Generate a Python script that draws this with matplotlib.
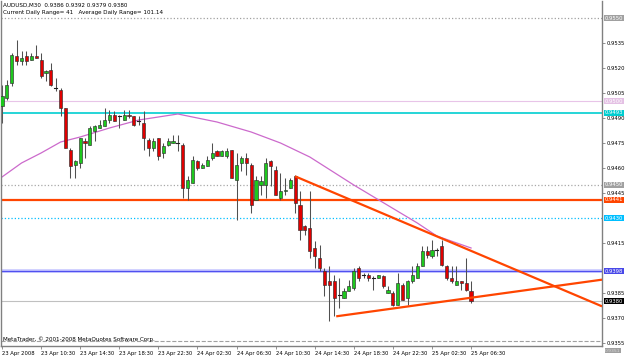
import matplotlib
matplotlib.use('Agg')
import matplotlib.pyplot as plt
import matplotlib.transforms as mtransforms
from matplotlib import font_manager
from matplotlib.patches import Rectangle

# ---------------- data ----------------
opens = [0.9497,0.9502,0.9511,0.9527,0.9524,0.9527,0.9525,0.9527,0.9525,0.9517,
         0.9519,0.9508,0.9507,0.9496,0.9471,0.9462,0.9463,0.9476,0.9474,0.9482,
         0.9484,0.9485,0.9489,0.9492,0.9491,0.9489,0.9492,0.9491,0.9488,0.9487,
         0.9477,0.9472,0.9478,0.9469,0.9474,0.9475,0.9475,0.9474,0.9448,0.9451,
         0.9464,0.9460,0.9461,0.9466,0.9470,0.9467,0.9467,0.9471,0.9453,0.9463,
         0.9466,0.9462,0.9441,0.9450,0.9450,0.9464,0.9459,0.9442,0.9446,0.9448,
         0.9455,0.9438,0.9425,0.9424,0.9412,0.9406,0.9398,0.9392,0.9392,0.9384,
         0.9382,0.9386,0.9388,0.9400,0.9396,0.9396,0.9394,0.9394,0.9395,0.9385,
         0.9385,0.9378,0.9390,0.9382,0.9392,0.9394,0.9401,0.9410,0.9407,0.9411,
         0.9413,0.9401,0.9394,0.9390,0.9392,0.9391,0.9386]
highs = [0.9510,0.9513,0.9529,0.9537,0.9530,0.9530,0.9529,0.9534,0.9529,0.9519,
         0.9523,0.9514,0.9508,0.9496,0.9472,0.9465,0.9478,0.9478,0.9485,0.9486,
         0.9489,0.9496,0.9495,0.9494,0.9492,0.9495,0.9495,0.9491,0.9491,0.9494,
         0.9478,0.9478,0.9478,0.9475,0.9478,0.9480,0.9480,0.9475,0.9455,0.9467,
         0.9465,0.9463,0.9467,0.9475,0.9471,0.9471,0.9472,0.9471,0.9469,0.9467,
         0.9469,0.9463,0.9455,0.9455,0.9466,0.9465,0.9461,0.9457,0.9454,0.9454,
         0.9456,0.9446,0.9426,0.9446,0.9416,0.9414,0.9400,0.9401,0.9396,0.9394,
         0.9388,0.9393,0.9400,0.9401,0.9397,0.9397,0.9395,0.9396,0.9396,0.9389,
         0.9386,0.9397,0.9391,0.9393,0.9401,0.9403,0.9413,0.9413,0.9417,0.9412,
         0.9417,0.9402,0.9401,0.9401,0.9392,0.9406,0.9392]
lows = [0.9487,0.9501,0.9509,0.9522,0.9522,0.9522,0.9525,0.9526,0.9514,0.9512,
        0.9509,0.9506,0.9491,0.9472,0.9454,0.9454,0.9460,0.9466,0.9474,0.9476,
        0.9484,0.9485,0.9487,0.9488,0.9484,0.9489,0.9490,0.9485,0.9486,0.9471,
        0.9467,0.9470,0.9465,0.9466,0.9473,0.9475,0.9470,0.9442,0.9441,0.9451,
        0.9459,0.9460,0.9461,0.9465,0.9467,0.9467,0.9466,0.9454,0.9429,0.9458,
        0.9456,0.9433,0.9441,0.9444,0.9442,0.9449,0.9444,0.9441,0.9444,0.9448,
        0.9433,0.9417,0.9420,0.9406,0.9400,0.9398,0.9383,0.9368,0.9371,0.9376,
        0.9382,0.9386,0.9387,0.9392,0.9394,0.9392,0.9387,0.9394,0.9388,0.9385,
        0.9377,0.9378,0.9381,0.9378,0.9391,0.9394,0.9401,0.9406,0.9406,0.9407,
        0.9401,0.9393,0.9391,0.9390,0.9387,0.9386,0.9379]
closes = [0.9503,0.9510,0.9528,0.9524,0.9526,0.9524,0.9527,0.9526,0.9515,0.9518,
          0.9510,0.9508,0.9496,0.9472,0.9461,0.9464,0.9478,0.9475,0.9484,0.9485,
          0.9486,0.9489,0.9492,0.9488,0.9491,0.9492,0.9491,0.9486,0.9488,0.9478,
          0.9472,0.9476,0.9467,0.9473,0.9476,0.9476,0.9475,0.9448,0.9453,0.9465,
          0.9460,0.9462,0.9465,0.9469,0.9467,0.9470,0.9470,0.9454,0.9462,0.9466,
          0.9463,0.9438,0.9453,0.9452,0.9463,0.9461,0.9444,0.9446,0.9447,0.9453,
          0.9439,0.9423,0.9423,0.9410,0.9407,0.9400,0.9390,0.9390,0.9382,0.9384,
          0.9386,0.9389,0.9398,0.9394,0.9396,0.9394,0.9394,0.9396,0.9389,0.9387,
          0.9378,0.9391,0.9381,0.9392,0.9396,0.9401,0.9410,0.9408,0.9411,0.9411,
          0.9402,0.9394,0.9392,0.9392,0.9391,0.9387,0.9380]

# moving average, read at a subset of bars
ma_bars = [0, 4, 8, 12, 16, 22, 28, 32, 36, 44, 51, 57, 63, 72, 85, 89, 96]
ma_vals = [0.94546, 0.9463, 0.9469, 0.94756, 0.94786, 0.9484, 0.94888, 0.94906,
           0.94924, 0.94876, 0.94816, 0.9475, 0.94666, 0.94498, 0.9427, 0.94192, 0.9412]

# trend lines (bar index, price)
trend_upper = [(60, 0.9455), (122.8, 0.9377)]
trend_lower = [(68.4, 0.9371), (122.8, 0.9393)]

# horizontal lines: price, label, line colour, box colour, style, width
hlines = [
    (0.9550, '0.9550', '#A0A0A0', '#A0A0A0', ':', 0.9),
    (0.9500, '0.9500', '#E8C4E8', '#E4C0E4', '-', 0.8),
    (0.9493, '0.9493', '#00CED1', '#00CED1', '-', 1.2),
    (0.9450, '0.9450', '#A8A8A8', '#A0A0A0', ':', 0.9),
    (0.9441, '0.9441', '#FF4500', '#FF4500', '-', 1.6),
    (0.9430, '0.9430', '#00BFFF', '#00BFFF', ':', 0.9),
    (0.9398, '0.9398', '#5050F0', '#4848E8', '-', 0.9),
    (0.9380, '0.9380', '#C0C0C0', '#000000', '-', 0.8),
    (0.9356, None, '#A0A0A0', None, '--', 0.8),
]
# grey price box at the very bottom of the price scale
bottom_box_price = 0.93505
bottom_box_label = '0.9351'

ytick_vals = [0.9535, 0.9520, 0.9505, 0.9490, 0.9475, 0.9460, 0.9445,
              0.9415, 0.9385, 0.9370, 0.9355]
xtick_bars = [0, 8, 16, 24, 32, 40, 48, 56, 64, 72, 80, 88, 96]
xtick_labels = ['23 Apr 2008', '23 Apr 10:30', '23 Apr 14:30', '23 Apr 18:30',
                '23 Apr 22:30', '24 Apr 02:30', '24 Apr 06:30', '24 Apr 10:30',
                '24 Apr 14:30', '24 Apr 18:30', '24 Apr 22:30', '25 Apr 02:30',
                '25 Apr 06:30']

header1 = 'AUDUSD,M30  0.9386 0.9392 0.9379 0.9380'
header2 = 'Current Daily Range= 41   Average Daily Range= 101.14'
footer = 'MetaTrader, \u00a9 2001-2008 MetaQuotes Software Corp.'

# ---------------- fonts ----------------
names = {f.name for f in font_manager.fontManager.ttflist}
if 'Liberation Sans Narrow' in names:
    plt.rcParams['font.family'] = ['Liberation Sans Narrow', 'DejaVu Sans']
    fs, fs_big = 4.5, 4.9
else:
    plt.rcParams['font.family'] = ['DejaVu Sans']
    fs, fs_big = 3.8, 4.1

# ---------------- figure ----------------
W, H = 625, 363
fig = plt.figure(figsize=(W / 100, H / 100), dpi=100)
fig.patch.set_facecolor('white')
ax = fig.add_axes([1 / W, (H - 346) / H, 601 / W, 345 / H])
ax.set_facecolor('white')
ax.set_xlim(-0.2, 122.8)
ax.set_ylim(0.93532, 0.95602)

# horizontal lines
blend = mtransforms.blended_transform_factory(ax.transAxes, ax.transData)
for price, lab, lc, bc, ls, lw in hlines:
    if lab == '0.9398':
        ax.axhline(price, color='#C8C8FF', lw=2.6, zorder=1)
    ax.axhline(price, color=lc, lw=lw, ls=ls, zorder=1.2)
    if lab is not None:
        ax.text(1.005, price, lab, transform=blend, ha='left', va='center',
                fontsize=fs, color='white', zorder=10, clip_on=False,
                bbox=dict(boxstyle='square,pad=0.12', fc=bc, ec='none'))
ax.text(1.005, bottom_box_price, bottom_box_label, transform=blend, ha='left',
        va='center', fontsize=fs * 0.85, color='#D8D8D8', zorder=10, clip_on=False,
        bbox=dict(boxstyle='square,pad=0.05', fc='#A0A0A0', ec='none'))

# moving average
ax.plot(ma_bars, ma_vals, color='#CC6ACC', lw=0.9, zorder=1.5)

# candles
bull, bear, wick, edge = '#1DC81D', '#E00000', '#505050', '#303030'
bw = 0.64
for i, (o, h, l, c) in enumerate(zip(opens, highs, lows, closes)):
    ax.plot([i, i], [l, h], color=wick, lw=0.75, zorder=2, solid_capstyle='butt')
    if abs(c - o) < 1e-9:
        ax.plot([i - bw / 2, i + bw / 2], [o, o], color='#202020', lw=0.8, zorder=3)
    else:
        col = bull if c > o else bear
        ax.add_patch(Rectangle((i - bw / 2, min(o, c)), bw, abs(c - o),
                               facecolor=col, edgecolor=edge, lw=0.45, zorder=3))

# trend lines
for (x0, y0), (x1, y1) in (trend_upper, trend_lower):
    ax.plot([x0, x1], [y0, y1], color='#FF4500', lw=1.6, zorder=4,
            solid_capstyle='butt')

# axes styling
for s in ('left', 'bottom', 'right'):
    ax.spines[s].set_color('#808080')
    ax.spines[s].set_linewidth(1.0)
ax.spines['top'].set_visible(False)
ax.yaxis.tick_right()
ax.set_yticks(ytick_vals)
ax.set_yticklabels([f'{v:.4f}' for v in ytick_vals])
ax.tick_params(axis='y', length=2.2, width=0.6, pad=1.2, labelsize=fs,
               colors='#808080', labelcolor='black')
ax.set_xticks(xtick_bars)
ax.set_xticklabels(xtick_labels)
ax.tick_params(axis='x', length=2.5, width=0.6, pad=1.0, labelsize=fs,
               colors='#808080', labelcolor='black')
for t in ax.get_xticklabels():
    t.set_ha('left')

# header and footer texts
ax.text(0.004, 0.995, header1, transform=ax.transAxes, ha='left', va='top',
        fontsize=fs_big, color='black')
ax.text(0.004, 0.973, header2, transform=ax.transAxes, ha='left', va='top',
        fontsize=fs_big, color='black')
ax.text(0.004, 0.012, footer, transform=ax.transAxes, ha='left', va='bottom',
        fontsize=fs_big, color='black')

fig.savefig('out.png', dpi=100, facecolor='white')
